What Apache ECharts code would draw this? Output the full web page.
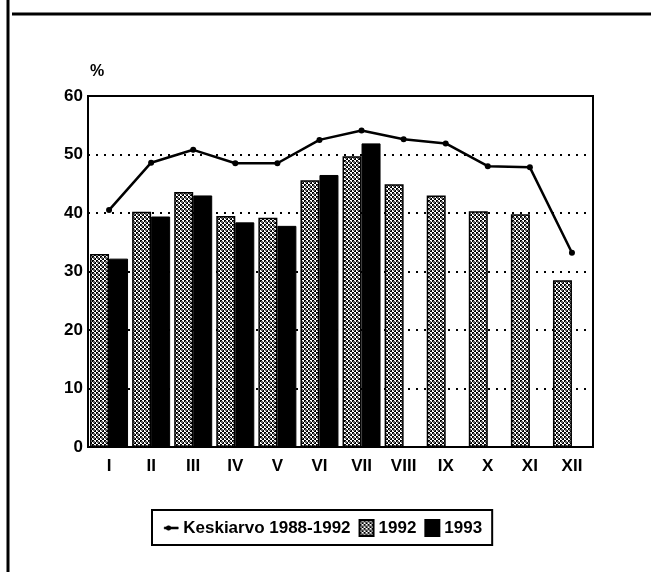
<!DOCTYPE html>
<html>
<head>
<meta charset="utf-8">
<script src="https://cdn.jsdelivr.net/npm/echarts@6/dist/echarts.min.js"></script>
<style>
  html, body { margin: 0; padding: 0; background: #fff; }
  #chart { width: 651px; height: 572px; }
</style>
</head>
<body>
<div id="chart"></div>
<script>
const months = ['I', 'II', 'III', 'IV', 'V', 'VI', 'VII', 'VIII', 'IX', 'X', 'XI', 'XII']
const avg8892 = [40.5, 48.6, 50.8, 48.5, 48.5, 52.5, 54.1, 52.6, 51.9, 48.0, 47.8, 33.2]
const vals1992 = [33.0, 40.2, 43.6, 39.5, 39.2, 45.6, 49.7, 44.9, 43.0, 40.3, 39.8, 28.5]
const vals1993 = [32.2, 39.4, 43.0, 38.4, 37.8, 46.5, 51.9, null, null, null, null, null]
const yTicks = [0, 10, 20, 30, 40, 50, 60]

const font = "'Liberation Sans Narrow', 'Arial Narrow', 'Liberation Sans', Arial, sans-serif"

// halftone fill for the 1992 bars
const makeDots = () => {
  const c = document.createElement('canvas')
  c.width = 4
  c.height = 4
  const ctx = c.getContext('2d')
  ctx.fillStyle = '#fff'
  ctx.fillRect(0, 0, 4, 4)
  ctx.fillStyle = '#000'
  ctx.fillRect(0, 0, 2, 2)
  ctx.fillRect(2, 2, 2, 2)
  ctx.fillStyle = '#666'
  ctx.fillRect(1, 1, 2, 2)
  return c
}
const dotFill = { image: makeDots(), repeat: 'repeat' }

// line with a dot, padded so the legend does not stretch it
const lineIcon = 'path://M0,0h0.01v0.01h-0.01z M0,6.8H16V9.2H0Z M2.2,8a2.7,2.7 0 1 1 5.4,0a2.7,2.7 0 1 1 -5.4,0Z M16,16h0.01v0.01h-0.01z'

const chart = echarts.init(document.getElementById('chart'), null, { renderer: 'canvas' })

chart.setOption({
  animation: false,
  backgroundColor: '#fff',
  textStyle: { fontFamily: font },
  grid: {
    left: 88,
    right: 58,
    top: 96,
    bottom: 125,
    show: true,
    borderColor: '#000',
    borderWidth: 2,
    backgroundColor: 'transparent',
  },
  legend: {
    left: 152,
    top: 510,
    padding: [9, 10, 8, 12],
    borderColor: '#000',
    borderWidth: 2,
    itemGap: 8,
    itemWidth: 14,
    itemHeight: 16,
    textStyle: { color: '#000', fontSize: 17, fontWeight: 'bold', fontFamily: font },
    data: [
      {
        name: 'Keskiarvo 1988-1992',
        icon: lineIcon,
        itemStyle: { color: '#000', borderColor: '#000', borderWidth: 0.5 },
      },
      { name: '1992', icon: 'rect' },
      { name: '1993', icon: 'rect' },
    ],
  },
  xAxis: {
    type: 'category',
    data: months,
    axisLine: { lineStyle: { color: '#000', width: 2 } },
    axisTick: { show: false },
    axisLabel: { color: '#000', fontSize: 17, fontWeight: 'bold', margin: 11, fontFamily: font },
    splitLine: { show: false },
  },
  yAxis: {
    type: 'value',
    min: yTicks[0],
    max: yTicks[yTicks.length - 1],
    interval: 10,
    name: '%',
    nameLocation: 'end',
    nameGap: 16,
    nameTextStyle: { color: '#000', fontSize: 16, fontWeight: 'bold', align: 'left', padding: [0, 0, 0, 2], fontFamily: font },
    axisLine: { show: true, lineStyle: { color: '#000', width: 2 } },
    axisTick: { show: false },
    axisLabel: { color: '#000', fontSize: 17, fontWeight: 'bold', margin: 5, fontFamily: font },
    splitLine: {
      show: true,
      showMinLine: false,
      showMaxLine: false,
      lineStyle: { color: '#000', width: 2, type: [2, 6] },
    },
  },
  series: [
    {
      name: '1992',
      type: 'bar',
      data: vals1992,
      barWidth: 19,
      barGap: '0%',
      itemStyle: { color: dotFill, borderColor: '#000', borderWidth: 1.5 },
      z: 2,
    },
    {
      name: '1993',
      type: 'bar',
      data: vals1993,
      barWidth: 19,
      barGap: '0%',
      itemStyle: { color: '#000', borderColor: '#000', borderWidth: 1 },
      z: 2,
    },
    {
      name: 'Keskiarvo 1988-1992',
      type: 'line',
      data: avg8892,
      symbol: 'circle',
      symbolSize: 6,
      lineStyle: { color: '#000', width: 2.5 },
      itemStyle: { color: '#000' },
      z: 5,
    },
  ],
  graphic: [
    { type: 'line', shape: { x1: 8, y1: 0, x2: 8, y2: 572 }, style: { stroke: '#000', lineWidth: 3 } },
    { type: 'line', shape: { x1: 12, y1: 14, x2: 651, y2: 14 }, style: { stroke: '#000', lineWidth: 3 } },
  ],
})
</script>
</body>
</html>
